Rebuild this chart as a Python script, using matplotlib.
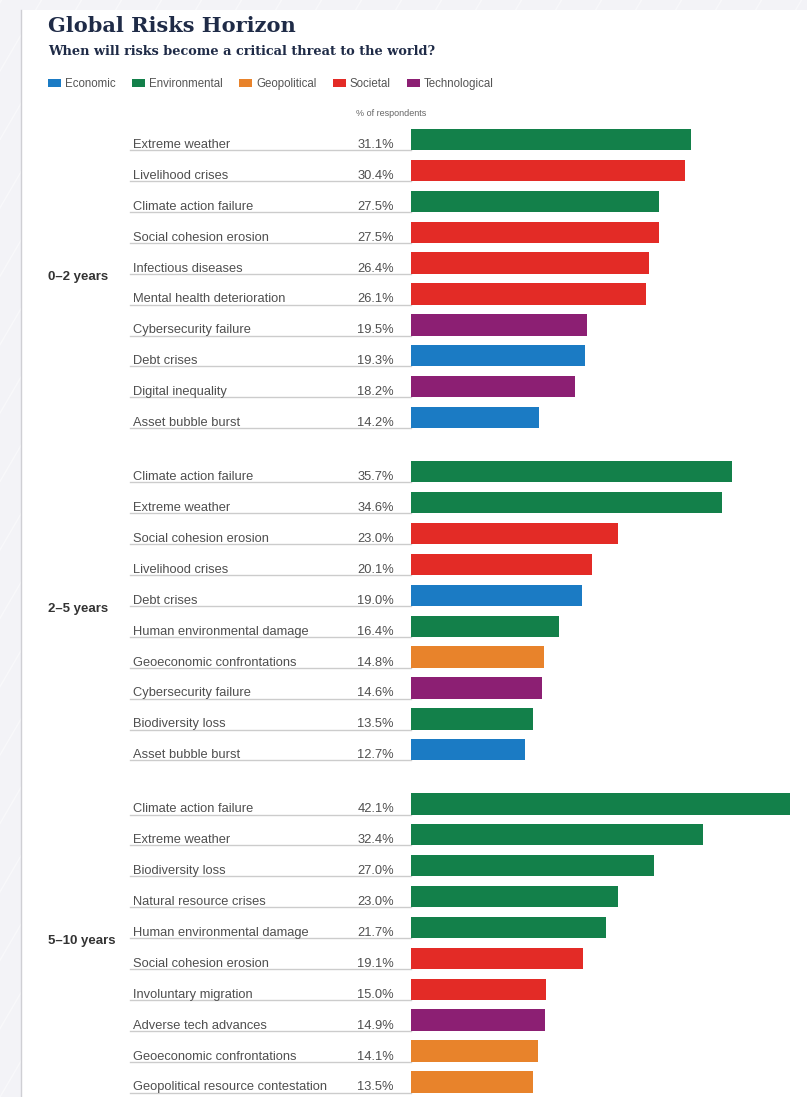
import matplotlib
matplotlib.use("Agg")
import matplotlib.pyplot as plt
import matplotlib.transforms as mtransforms
from matplotlib.patches import Patch, Rectangle
from matplotlib.lines import Line2D

# ---------------- data ----------------
categories = ["Economic", "Environmental", "Geopolitical", "Societal", "Technological"]
category_colors = ["#1b7bc4", "#13804a", "#e8832b", "#e32b26", "#8c1f73"]

horizons = ["0–2 years", "2–5 years", "5–10 years"]

risks_0_2 = ["Extreme weather", "Livelihood crises", "Climate action failure",
             "Social cohesion erosion", "Infectious diseases",
             "Mental health deterioration", "Cybersecurity failure", "Debt crises",
             "Digital inequality", "Asset bubble burst"]
values_0_2 = [31.1, 30.4, 27.5, 27.5, 26.4, 26.1, 19.5, 19.3, 18.2, 14.2]
cats_0_2 = ["Environmental", "Societal", "Environmental", "Societal", "Societal",
            "Societal", "Technological", "Economic", "Technological", "Economic"]

risks_2_5 = ["Climate action failure", "Extreme weather", "Social cohesion erosion",
             "Livelihood crises", "Debt crises", "Human environmental damage",
             "Geoeconomic confrontations", "Cybersecurity failure",
             "Biodiversity loss", "Asset bubble burst"]
values_2_5 = [35.7, 34.6, 23.0, 20.1, 19.0, 16.4, 14.8, 14.6, 13.5, 12.7]
cats_2_5 = ["Environmental", "Environmental", "Societal", "Societal", "Economic",
            "Environmental", "Geopolitical", "Technological", "Environmental", "Economic"]

risks_5_10 = ["Climate action failure", "Extreme weather", "Biodiversity loss",
              "Natural resource crises", "Human environmental damage",
              "Social cohesion erosion", "Involuntary migration",
              "Adverse tech advances", "Geoeconomic confrontations",
              "Geopolitical resource contestation"]
values_5_10 = [42.1, 32.4, 27.0, 23.0, 21.7, 19.1, 15.0, 14.9, 14.1, 13.5]
cats_5_10 = ["Environmental", "Environmental", "Environmental", "Environmental",
             "Environmental", "Societal", "Societal", "Technological",
             "Geopolitical", "Geopolitical"]

group_risks = [risks_0_2, risks_2_5, risks_5_10]
group_values = [values_0_2, values_2_5, values_5_10]
group_cats = [cats_0_2, cats_2_5, cats_5_10]

# ---------------- layout ----------------
W, H = 807, 1097
def fx(px):
    return px / W
def fy(py):
    return 1 - py / H

plt.rcParams["font.family"] = ["Liberation Sans", "DejaVu Sans"]

fig = plt.figure(figsize=(W / 100, H / 100), dpi=100)
fig.patch.set_facecolor("#f3f3f7")

# faint diagonal stripes in the outer background
for k in range(-20, 60):
    x0 = k * 40
    fig.add_artist(Line2D([fx(x0), fx(x0 + 700)], [fy(1097), fy(-100)],
                          transform=fig.transFigure, color="white",
                          lw=1.0, alpha=0.45, zorder=0))

# white panel
fig.add_artist(Rectangle((fx(21), 0), 1 - fx(21), fy(10), transform=fig.transFigure,
                         facecolor="white", edgecolor="none", zorder=0.5))
fig.add_artist(Line2D([fx(21), fx(21)], [0, fy(10)], transform=fig.transFigure,
                      color="#cfcfd4", lw=1.0, zorder=0.6))

# bar axes
bar_x0 = 411
px_per_pct = 9.0
row_px = 30.9
first_row = 139.5
ax_top, ax_bot = 110, 1097
ax = fig.add_axes([fx(bar_x0), fy(ax_bot), fx(W) - fx(bar_x0), fy(ax_top) - fy(ax_bot)])
ax.set_zorder(2)
ax.set_xlim(0, (W - bar_x0) / px_per_pct)
ax.set_ylim((ax_bot - first_row) / row_px, (ax_top - first_row) / row_px)
ax.axis("off")
ax.patch.set_alpha(0)

trans = mtransforms.blended_transform_factory(fig.transFigure, ax.transData)

group_step = 10.75
bar_h = 0.69
color_of = dict(zip(categories, category_colors))

for g, (name, risks, vals, cats) in enumerate(zip(horizons, group_risks, group_values, group_cats)):
    pos = [g * group_step + i for i in range(len(risks))]
    ax.barh(pos, vals, height=bar_h, color=[color_of[c] for c in cats], zorder=3)
    for p, r, v in zip(pos, risks, vals):
        ax.text(fx(133), p + 0.275, r, transform=trans, ha="left", va="baseline",
                fontsize=9.3, color="#4f4f4f")
        ax.text(fx(394), p + 0.275, f"{v:.1f}%", transform=trans, ha="right",
                va="baseline", fontsize=9.3, color="#4f4f4f")
        ax.plot([fx(130), fx(bar_x0)], [p + bar_h / 2] * 2, transform=trans,
                color="#cccccc", lw=1.0, clip_on=False, zorder=2)
    ax.text(fx(48), g * group_step + 4.45, name, transform=trans, ha="left",
            va="center", fontsize=9.5, fontweight="bold", color="#333333")

# titles
fig.text(fx(48), fy(32), "Global Risks Horizon", family="DejaVu Serif",
         fontweight="bold", fontsize=15.0, color="#1f2b47", va="baseline", ha="left")
fig.text(fx(48), fy(55), "When will risks become a critical threat to the world?",
         family="DejaVu Serif", fontweight="bold", fontsize=9.3, color="#1f2b47",
         va="baseline", ha="left")

# legend
handles = [Patch(facecolor=c, edgecolor="none", label=n)
           for n, c in zip(categories, category_colors)]
fig.legend(handles=handles, loc="center left", bbox_to_anchor=(fx(48), fy(84)),
           ncol=5, frameon=False, fontsize=8.3, labelcolor="#555555",
           handlelength=1.1, handleheight=0.75, handletextpad=0.35,
           columnspacing=1.45, borderpad=0, borderaxespad=0)

fig.text(fx(356), fy(113), "% of respondents", fontsize=6.5, color="#666666",
         ha="left", va="center")

fig.savefig("out.png", dpi=100, facecolor=fig.get_facecolor())
